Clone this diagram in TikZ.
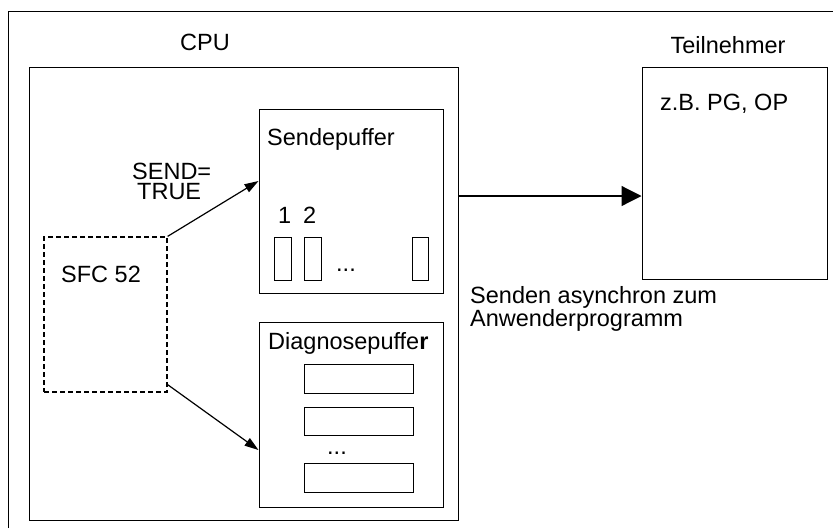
\documentclass[tikz,border=0pt]{standalone}
\usepackage{fontspec}
\setmainfont{Liberation Sans}
\usetikzlibrary{arrows.meta}
\tikzset{
  box/.style={draw, rectangle, inner sep=0pt, line width=1pt},
  txt/.style={anchor=base west, inner sep=0pt, font=\fontsize{23.5}{20}\selectfont},
  mtxt/.style={anchor=base west, inner sep=0pt, align=left, font=\fontsize{23.5}{19.5}\selectfont},
  ctxt/.style={anchor=base, inner sep=0pt, font=\fontsize{23.5}{20}\selectfont},
  conn/.style={line width=1.2pt, -{Triangle[length=14pt,width=9pt]}},
  bigconn/.style={line width=1.2pt, -{Triangle[length=20pt,width=20pt]}}
}
\begin{document}
\begin{tikzpicture}[x=1pt,y=-1pt]
\useasboundingbox (0,0) rectangle (833,528);
% outer frame (top and left edges)
\draw[line width=1pt] (8,528) -- (8,11) -- (833,11);
% CPU
\node[box, minimum width=429pt, minimum height=453pt] (cpu) at (243.5,293.5) {};
\node[ctxt] (cpulbl) at (205,50) {CPU};
% Sendepuffer
\node[box, minimum width=184pt, minimum height=184pt] (send) at (351,201) {};
\node[txt] (sendlbl) at (267,145) {Sendepuffer};
\node[txt] (n1) at (278,223) {1};
\node[txt] (n2) at (303,223) {2};
\node[box, minimum width=17pt, minimum height=43pt] (s1) at (282.5,258.5) {};
\node[box, minimum width=17pt, minimum height=43pt] (s2) at (312.5,258.5) {};
\node[box, minimum width=16pt, minimum height=43pt] (s3) at (420,258.5) {};
\node[txt] (sdots) at (336,271) {...};
% Diagnosepuffer
\node[box, minimum width=184pt, minimum height=185pt] (diag) at (351,414.5) {};
\node[txt] (diaglbl) at (268,349) {Diagnosepuffe\textbf{r}};
\node[box, minimum width=109pt, minimum height=29pt] (d1) at (358.5,378.5) {};
\node[box, minimum width=109pt, minimum height=28pt] (d2) at (358.5,421) {};
\node[box, minimum width=109pt, minimum height=29pt] (d3) at (358.5,477.5) {};
\node[txt] (ddots) at (327,454) {...};
% SFC 52
\node[box, dashed, dash pattern=on 5pt off 3pt, line width=1.3pt, minimum width=123pt, minimum height=155pt] (sfc) at (105.5,314.5) {};
\node[txt] (sfclbl) at (61,282) {SFC 52};
% SEND=TRUE
\node[mtxt] (sendtrue) at (132,199) {SEND=\\\hspace*{5pt}TRUE};
% Teilnehmer
\node[box, minimum width=185pt, minimum height=212pt] (teil) at (734.5,173) {};
\node[ctxt] (teillbl) at (728,53) {Teilnehmer};
\node[txt] (zb) at (660,110) {z.B. PG, OP};
% Senden asynchron
\node[mtxt] (async) at (470,326) {Senden asynchron zum\\Anwenderprogramm};
% connectors
\draw[conn] (sfc.north east) -- ([yshift=20pt]send.west);
\draw[conn] ([yshift=8pt]sfc.south east) -- ([yshift=-35.5pt]diag.west);
\draw[bigconn] ([yshift=97.5pt]cpu.east) -- ([yshift=-23pt]teil.west);
\end{tikzpicture}
\end{document}
